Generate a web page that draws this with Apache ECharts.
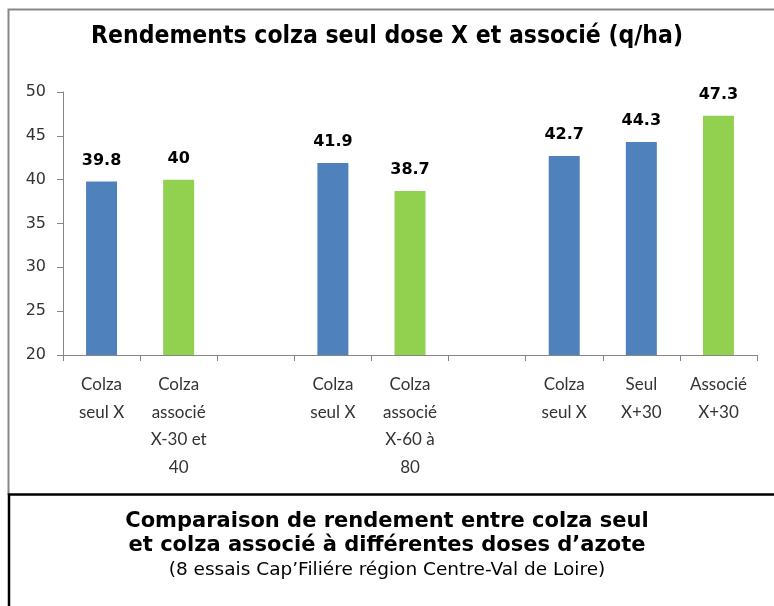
<!DOCTYPE html>
<html>
<head>
<meta charset="utf-8">
<script src="https://cdn.jsdelivr.net/npm/echarts@6/dist/echarts.min.js"></script>
<style>
html,body{margin:0;padding:0;background:#fff;}
#chart{width:774px;height:606px;}
</style>
</head>
<body>
<div id="chart"></div>
<script>
const categories = [
  "Colza\nseul X", "Colza\nassocié\nX-30 et\n40", "",
  "Colza\nseul X", "Colza\nassocié\nX-60 à\n80", "",
  "Colza\nseul X", "Seul\nX+30", "Associé\nX+30"
];
const seulValues    = [39.8, null, null, 41.9, null, null, 42.7, 44.3, null];
const associeValues = [null, 40,   null, null, 38.7, null, null, null, 47.3];
const yTicks = { min: 20, max: 50, interval: 5 };
const titleText = "Rendements colza seul dose X et associé (q/ha)";
const captionBold1 = "Comparaison de rendement entre colza seul";
const captionBold2 = "et colza associé à différentes doses d’azote";
const captionNormal = "(8 essais Cap’Filiére région Centre-Val de Loire)";

const chart = echarts.init(document.getElementById('chart'), null, {renderer: 'canvas'});
const labelStyle = {
  show: true, position: 'top', distance: 13,
  fontFamily: 'DejaVu Sans', fontWeight: 'bold', fontSize: 16, color: '#000',
  formatter: p => String(p.value)
};
chart.setOption({
  animation: false,
  backgroundColor: '#fff',
  title: {
    text: titleText, left: 'center', top: 19,
    textStyle: {fontFamily: '"DejaVu Sans Condensed", sans-serif', fontWeight: 'bold', fontSize: 24.5, color: '#000'}
  },
  grid: {left: 63, right: 17, top: 92, bottom: 251},
  xAxis: {
    type: 'category', data: categories,
    axisLine: {lineStyle: {color: '#868686', width: 1}},
    axisTick: {show: true, interval: 0, length: 6, lineStyle: {color: '#868686'}},
    axisLabel: {interval: 0, margin: 16, fontFamily: 'Lato, sans-serif', fontSize: 17, lineHeight: 27.5, color: '#333', align: 'center'}
  },
  yAxis: {
    type: 'value', min: yTicks.min, max: yTicks.max, interval: yTicks.interval,
    splitLine: {show: false},
    axisLine: {show: true, lineStyle: {color: '#868686'}},
    axisTick: {show: true, length: 6, lineStyle: {color: '#868686'}},
    axisLabel: {fontFamily: 'DejaVu Sans', fontSize: 16, color: '#333', margin: 17}
  },
  series: [
    {type: 'bar', name: 'seul', data: seulValues, barWidth: 31, barGap: '-100%',
     itemStyle: {color: '#4F81BD'}, label: labelStyle},
    {type: 'bar', name: 'associe', data: associeValues, barWidth: 31,
     itemStyle: {color: '#92D050'}, label: labelStyle}
  ],
  graphic: [
    {type: 'polyline', shape: {points: [[8.5, 495], [8.5, 9.5], [780, 9.5]]},
     style: {stroke: '#878787', lineWidth: 2, fill: null}, silent: true},
    {type: 'polyline', shape: {points: [[9, 620], [9, 494.5], [780, 494.5]]},
     style: {stroke: '#000', lineWidth: 2.5, fill: null}, silent: true},
    {type: 'text', left: 'center', top: 510,
     style: {text: captionBold1 + '\n' + captionBold2, fontFamily: '"DejaVu Sans"', fontWeight: 'bold', fontSize: 21, lineHeight: 24, fill: '#000', textAlign: 'center'}},
    {type: 'text', left: 'center', top: 559,
     style: {text: captionNormal, fontFamily: '"DejaVu Sans"', fontSize: 18.5, lineHeight: 22, fill: '#000', textAlign: 'center'}}
  ]
});
</script>
</body>
</html>
